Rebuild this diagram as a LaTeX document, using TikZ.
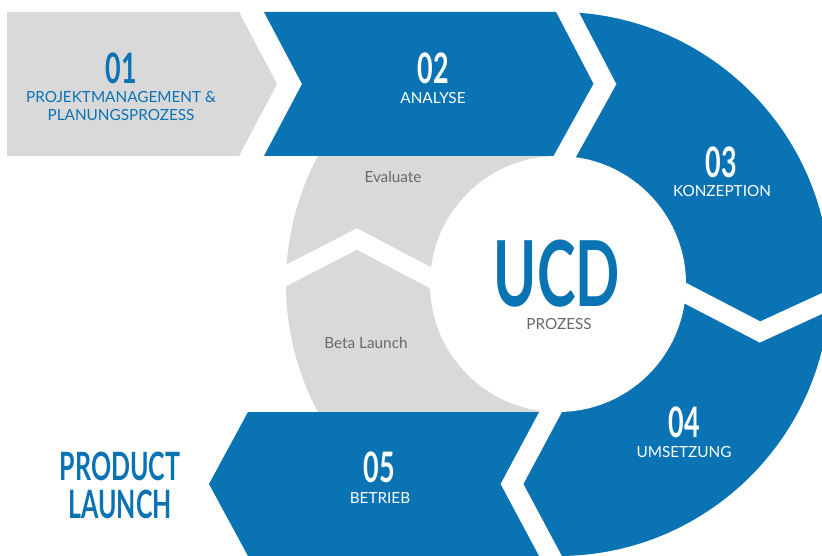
\documentclass[tikz,border=0pt]{standalone}
\usepackage{fontspec}
\setmainfont{Lato}
\newfontfamily\numfont{Lato}[FakeStretch=0.64]
\definecolor{ucdblue}{RGB}{10,115,180}
\definecolor{ucdgray}{RGB}{217,217,217}
\definecolor{ucdtext}{RGB}{105,105,105}

\begin{document}
\begin{tikzpicture}[x=1pt, y=-1pt,
    num/.style={anchor=base, inner sep=0pt, font=\numfont\bfseries\fontsize{42}{42}\selectfont},
    lbl/.style={anchor=base, inner sep=0pt, align=center, font=\fontsize{15.3}{18}\selectfont},
    gap/.style={white, line width=20pt, line join=miter}]
        \useasboundingbox (0,0) rectangle (822,556);
        \clip (0,0) rectangle (822,556);
        \coordinate (c) at (558,284);

        % ring
        \fill[ucdgray] (c) circle[radius=272];
        \begin{scope}
            \clip (c) circle[radius=272];
            \fill[ucdblue] (556,-10) -- (605,84) -- (540.6,200) -- (573,370) -- (512,484)
                -- (574,600) -- (900,600) -- (900,-10) -- cycle;
        \end{scope}

        % boxes
        \fill[ucdgray] (7,12) -- (239,12) -- (277,84) -- (239,156) -- (7,156) -- cycle;
        \fill[ucdblue] (264,12) -- (567.5,12) -- (605,84) -- (565,156) -- (264,156) -- (302,84) -- cycle;
        \fill[ucdblue] (248,412) -- (550.5,412) -- (512,484) -- (550.5,556) -- (248,556) -- (209,484) -- cycle;

        % gaps
        \draw[gap] (556,-10) -- (605,84) -- (540.6,200);
        \draw[gap, line width=19pt] (640,269.6) -- (760,332) -- (850,290.6);
        \draw[gap, line width=19pt] (260,288.9) -- (357,239) -- (480,303.9);
        \draw[gap] (573,370) -- (512,484) -- (574,600);
        \fill[white] (c) circle[radius=128];

        \node[num, ucdblue] (n01) at (121,84) {01};
        \node[lbl, ucdblue] (t01) at (121,121) {PROJEKTMANAGEMENT \&\\PLANUNGSPROZESS};
        \node[num, white] (n02) at (433,84) {02};
        \node[lbl, white] (t02) at (433,104) {ANALYSE};
        \node[num, white] (n03) at (721,178) {03};
        \node[lbl, white] (t03) at (722,197) {KONZEPTION};
        \node[num, white] (n04) at (684,437) {04};
        \node[lbl, white] (t04) at (684,457) {UMSETZUNG};
        \node[num, white] (n05) at (379,482) {05};
        \node[lbl, white] (t05) at (380,503) {BETRIEB};

        \node[num, ucdblue, font=\numfont\bfseries\fontsize{91}{91}\selectfont] (ucd) at (557,306) {UCD};
        \node[lbl, ucdtext] (proz) at (559,329) {PROZESS};
        \node[lbl, ucdtext] (eval) at (393,183) {Evaluate};
        \node[lbl, ucdtext] (beta) at (366,348) {Beta Launch};

        \node[num, ucdblue, align=center, font=\numfont\bfseries\fontsize{39}{38}\selectfont] (launch) at (120,518) {PRODUCT\\LAUNCH};
    \end{tikzpicture}
\end{document}
